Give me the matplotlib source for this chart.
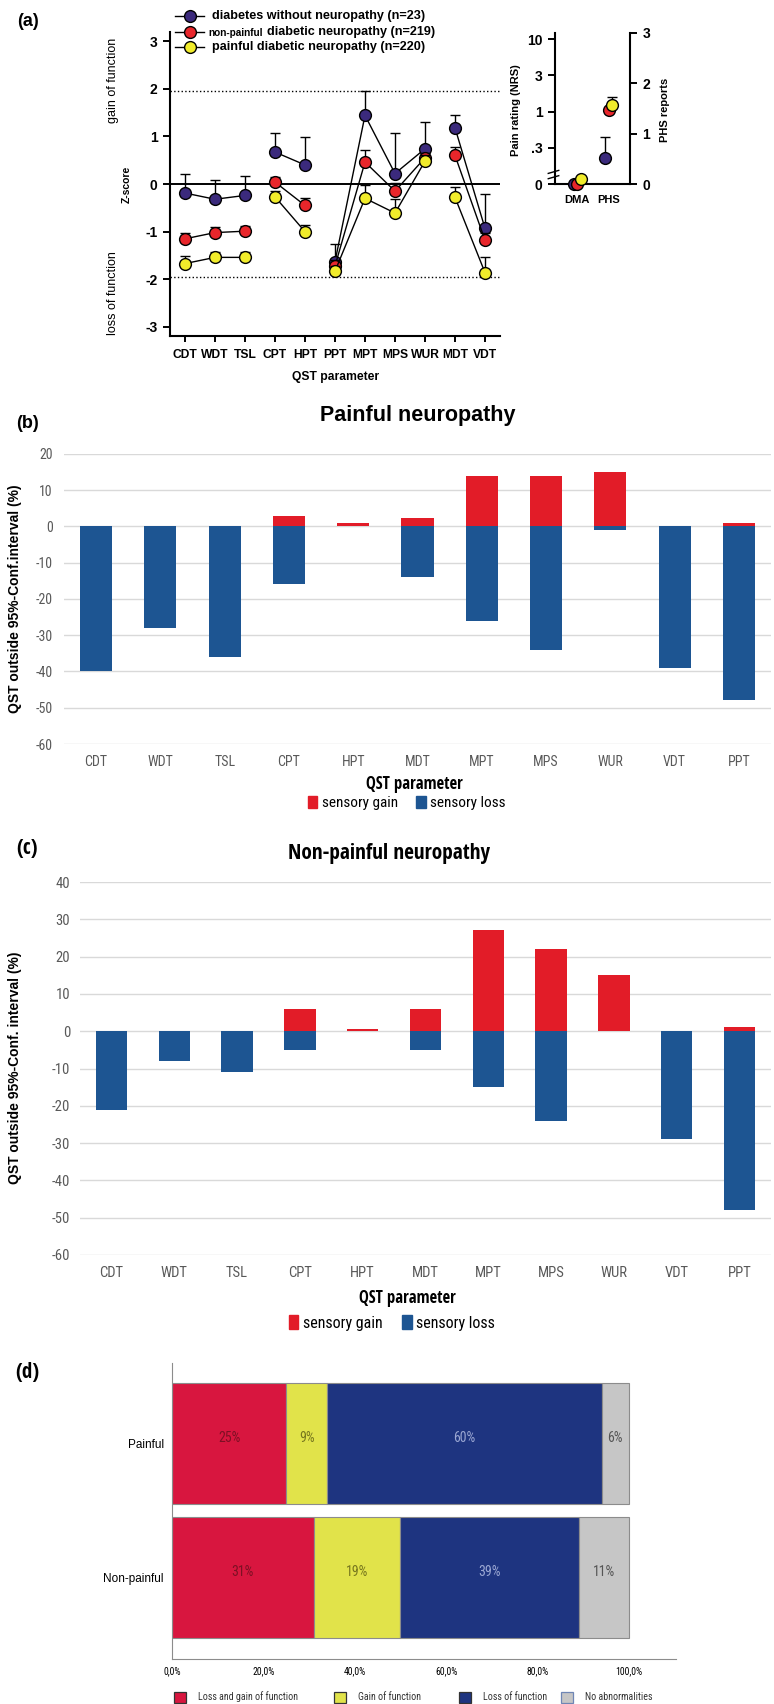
import numpy as np
import matplotlib
matplotlib.use('Agg')
import matplotlib.pyplot as plt
from matplotlib import font_manager
from matplotlib.font_manager import FontProperties
from matplotlib.lines import Line2D
from matplotlib.patches import Patch, Rectangle
from matplotlib.ticker import NullLocator

ARIAL = 'Liberation Sans'
plt.rcParams['font.family'] = [ARIAL, 'DejaVu Sans']
plt.rcParams['axes.unicode_minus'] = False


def narrow_font(bold):
    # look for an installed narrow / condensed sans face, Arial Narrow look-alike
    order = ['Liberation Sans Narrow', 'Noto Sans', 'Open Sans', 'Roboto', 'DejaVu Sans']
    best = None
    for f in font_manager.fontManager.ttflist:
        fn = f.fname.lower()
        narrow = ('narrow' in fn or 'condensed' in fn or 'cond' in fn
                  or str(f.stretch) in ('condensed', 'semi-condensed'))
        if not narrow or 'semi' in fn or 'extra' in fn or 'ultra' in fn:
            continue
        if f.style != 'normal' or 'italic' in fn:
            continue
        w = f.weight if isinstance(f.weight, int) else font_manager.weight_dict.get(f.weight, 400)
        if bold and w != 700:
            continue
        if not bold and w != 400:
            continue
        fam = next((k for k, n in enumerate(order) if f.name.startswith(n)), None)
        if fam is None:
            continue
        if best is None or fam < best[0]:
            best = (fam, f.fname)
    if best is None:
        return None
    return best[1]


NARROW_R = narrow_font(False)
NARROW_B = narrow_font(True)


def nprop(size, bold=False):
    path = NARROW_B if bold else NARROW_R
    if path is None:
        # no narrow face installed: plain Arial metrics, a bit smaller
        return FontProperties(family=ARIAL, weight='bold' if bold else 'normal', size=size * 0.9)
    return FontProperties(fname=path, size=size)


# ---- panel (a) data ----
qst_a = ['CDT', 'WDT', 'TSL', 'CPT', 'HPT', 'PPT', 'MPT', 'MPS', 'WUR', 'MDT', 'VDT']
segments_a = [[0, 1, 2], [3, 4], [5, 6, 7, 8], [9, 10]]
z_nodn = [-0.19, -0.32, -0.24, 0.67, 0.40, -1.63, 1.44, 0.22, 0.74, 1.18, -0.93]
z_nodn_up = [0.20, 0.08, 0.16, 1.06, 0.98, -1.25, 1.95, 1.08, 1.30, 1.45, -0.20]
z_npdn = [-1.15, -1.02, -0.99, 0.04, -0.45, -1.72, 0.46, -0.15, 0.55, 0.60, -1.18]
z_npdn_up = [-1.02, -0.90, -0.88, 0.15, -0.29, -1.60, 0.72, 0.02, 0.65, 0.77, -1.03]
z_pdn = [-1.67, -1.54, -1.54, -0.27, -1.00, -1.83, -0.30, -0.61, 0.48, -0.28, -1.86]
z_pdn_up = [-1.52, -1.42, -1.42, -0.15, -0.85, -1.72, -0.03, -0.32, 0.60, -0.06, -1.53]

pain_items = ['DMA', 'PHS']
dma_vals = [0.0, 0.0, 0.04]          # NRS, per group
phs_vals = [0.51, 1.47, 1.57]        # PHS reports, per group
phs_up = [0.93, 1.47, 1.73]

group_labels = ['diabetes without neuropathy (n=23)', 'non-painful',
                'painful diabetic neuropathy (n=220)']
group_colors = ['#3b2a7c', '#e8262b', '#f1ec2b']

# ---- panels (b), (c) data ----
qst_bc = ['CDT', 'WDT', 'TSL', 'CPT', 'HPT', 'MDT', 'MPT', 'MPS', 'WUR', 'VDT', 'PPT']
gain_painful = [0, 0, 0, 3, 1, 2.3, 14, 14, 15, 0, 1]
loss_painful = [-40, -28, -36, -16, 0, -14, -26, -34, -1, -39, -48]
gain_nonpainful = [0, 0, 0, 6, 0.7, 6, 27, 22, 15, 0, 1]
loss_nonpainful = [-21, -8, -11, -5, 0, -5, -15, -24, 0, -29, -48]

# ---- panel (d) data ----
d_groups = ['Painful', 'Non-painful']
d_cats = ['Loss and gain of function', 'Gain of function', 'Loss of function', 'No abnormalities']
d_painful = [25, 9, 60, 6]
d_nonpainful = [31, 19, 39, 11]
d_colors = ['#d8163f', '#e1e34a', '#1e3480', '#c6c6c6']
d_textcolors = ['#7d1024', '#77771e', '#9aa6d2', '#555555']
d_edge = ['#333333', '#333333', '#333333', '#6f86b5']

RED = '#e21c28'
BLUE = '#1d5592'
W, H = 774, 1704


def fx(px):
    return px / W


def fy(py):
    return 1 - py / H


fig = plt.figure(figsize=(W / 100, H / 100), dpi=100)

# ================= (a) main =================
ax = fig.add_axes([fx(170), fy(336), fx(330), 304 / H])
x = np.arange(len(qst_a))
ax.axhline(0, color='k', lw=1.4, zorder=1)
ax.axhline(1.96, color='k', lw=1, ls=':', zorder=1)
ax.axhline(-1.96, color='k', lw=1, ls=':', zorder=1)
series = [(z_nodn, z_nodn_up), (z_npdn, z_npdn_up), (z_pdn, z_pdn_up)]
for i, (vals, ups) in enumerate(series):
    vals = np.array(vals)
    ups = np.array(ups)
    base = 2 + 3 * i
    ax.errorbar(x, vals, yerr=[np.zeros_like(vals), ups - vals], fmt='none',
                ecolor='k', elinewidth=1, capsize=3.5, capthick=1, zorder=base)
    for seg in segments_a:
        ax.plot(x[seg], vals[seg], '-', color='k', lw=1, zorder=base + 1)
    ax.plot(x, vals, 'o', ms=8.5, mfc=group_colors[i], mec='k', mew=1, zorder=base + 2)
ax.set_xlim(-0.5, 10.5)
ax.set_ylim(-3.19, 3.19)
ax.set_yticks(range(-3, 4))
ax.set_yticklabels([str(v) for v in range(-3, 4)], fontweight='bold', fontsize=10)
ax.set_xticks(x)
ax.set_xticklabels(qst_a, fontweight='bold', fontsize=8.7)
ax.tick_params(axis='y', length=5, width=1.4, pad=4)
ax.tick_params(axis='x', length=4, width=1.4, pad=5)
for s in ['top', 'right']:
    ax.spines[s].set_visible(False)
for s in ['left', 'bottom']:
    ax.spines[s].set_linewidth(1.5)
fig.text(fx(336), fy(377), 'QST parameter', fontweight='bold', fontsize=8.7, ha='center', va='center')
fig.text(fx(127), fy(184), 'Z-score', fontweight='bold', fontsize=7.5, rotation=90, ha='center', va='center')
fig.text(fx(113), fy(80), 'gain of function', fontsize=9, rotation=90, ha='center', va='center')
fig.text(fx(113), fy(293), 'loss of function', fontsize=9, rotation=90, ha='center', va='center')

# legend (a)
for i, yy in enumerate([16, 32, 47]):
    fig.add_artist(Line2D([fx(175), fx(204)], [fy(yy), fy(yy)], color='k', lw=1,
                          transform=fig.transFigure))
    fig.add_artist(Line2D([fx(190)], [fy(yy)], marker='o', ms=8.5, mfc=group_colors[i],
                          mec='k', mew=1, transform=fig.transFigure))
fig.text(fx(212), fy(16), group_labels[0], fontweight='bold', fontsize=9.1, va='center')
fig.text(fx(208), fy(33), group_labels[1], fontweight='bold', fontsize=7.2, va='center')
fig.text(fx(267), fy(32), 'diabetic neuropathy (n=219)', fontweight='bold', fontsize=9.1, va='center')
fig.text(fx(212), fy(47), group_labels[2], fontweight='bold', fontsize=9.1, va='center')

# ================= (a) right: DMA / PHS =================
LO = 10 ** -0.5


def fwd(v):
    v = np.asarray(v, float)
    return np.where(v < LO, -1 + 0.5 * v / LO, np.log10(np.maximum(v, LO)))


def inv(p):
    p = np.asarray(p, float)
    return np.where(p < -0.5, (p + 1) / 0.5 * LO, 10 ** np.minimum(p, 5))


ax2 = fig.add_axes([fx(555), fy(184), fx(75), (184 - 32.7) / H])
ax2.set_yscale('function', functions=(fwd, inv))
ax2.set_ylim(0, 10 ** 1.09)
ax2.set_xlim(-0.69, 1.66)
offs = [-0.11, 0.0, 0.11]
for i in range(3):
    ax2.plot([0 + offs[i]], [dma_vals[i]], 'o', ms=8.5, mfc=group_colors[i], mec='k',
             mew=1, clip_on=False, zorder=3 + i)
ax2.set_yticks([0, LO, 1, 10 ** 0.5, 10])
ax2.set_yticklabels(['0', '.3', '1', '3', '10'], fontweight='bold', fontsize=10)
ax2.yaxis.set_minor_locator(NullLocator())
ax2.set_xticks([0, 1])
ax2.set_xticklabels(pain_items, fontweight='bold', fontsize=8)
ax2.tick_params(axis='x', length=0, pad=8)
ax2.tick_params(axis='y', length=5, width=1.4, pad=4)
for s in ['top', 'right']:
    ax2.spines[s].set_visible(False)
for s in ['left', 'bottom']:
    ax2.spines[s].set_linewidth(1.5)
# axis break marks
for yb in [0.045, 0.08]:
    ax2.plot([-0.09, 0.05], [yb - 0.01, yb + 0.01], color='k', lw=1,
             transform=ax2.transAxes, clip_on=False)

axr = ax2.twinx()
axr.set_ylim(0, 3)
for i in range(3):
    v = phs_vals[i]
    if phs_up[i] > v:
        axr.errorbar([1 + offs[i]], [v], yerr=[[0], [phs_up[i] - v]], fmt='none',
                     ecolor='k', elinewidth=1, capsize=3.5, capthick=1, zorder=2 + 2 * i)
    axr.plot([1 + offs[i]], [v], 'o', ms=8.5, mfc=group_colors[i], mec='k', mew=1,
             zorder=3 + 2 * i)
axr.set_yticks([0, 1, 2, 3])
axr.set_yticklabels(['0', '1', '2', '3'], fontweight='bold', fontsize=10)
axr.tick_params(axis='y', length=5, width=1.4, pad=4)
for s in ['top', 'left', 'bottom']:
    axr.spines[s].set_visible(False)
axr.spines['right'].set_linewidth(1.5)
fig.text(fx(516), fy(110), 'Pain rating (NRS)', fontweight='bold', fontsize=8, rotation=90,
         ha='center', va='center')
fig.text(fx(665), fy(110), 'PHS reports', fontweight='bold', fontsize=8, rotation=90,
         ha='center', va='center')


# ================= (b) and (c) =================
def qst_bars(rect, gain, loss, ylim, step, ypad, title, title_xy, title_narrow,
             ylabel, ylabel_y, xlabel_y, xlabel_x, leg_xy, leg_fs, tick_fs):
    axb = fig.add_axes(rect)
    xb = np.arange(len(qst_bc))
    axb.bar(xb, gain, width=0.5, color=RED, zorder=3)
    axb.bar(xb, loss, width=0.5, color=BLUE, zorder=3)
    axb.set_xlim(-0.5, 10.5)
    axb.set_ylim(*ylim)
    axb.set_yticks(np.arange(ylim[0], ylim[1] + 1, step))
    axb.yaxis.grid(True, color='#d9d9d9', lw=1)
    axb.set_axisbelow(True)
    axb.set_xticks(xb)
    axb.set_xticklabels(qst_bc)
    for s in axb.spines.values():
        s.set_visible(False)
    axb.tick_params(length=0, colors='#595959')
    axb.tick_params(axis='y', pad=ypad)
    axb.tick_params(axis='x', pad=8)
    for lab in axb.get_xticklabels() + axb.get_yticklabels():
        lab.set_fontproperties(nprop(tick_fs))
    if title_narrow:
        fig.text(fx(title_xy[0]), fy(title_xy[1]), title, fontproperties=nprop(15.3, True),
                 ha='center', va='center')
    else:
        fig.text(fx(title_xy[0]), fy(title_xy[1]), title, fontweight='bold', fontsize=15.5,
                 ha='center', va='center')
    fig.text(fx(15), fy(ylabel_y), ylabel, fontweight='bold', fontsize=10, rotation=90,
             ha='center', va='center')
    fig.text(fx(xlabel_x), fy(xlabel_y), 'QST parameter', fontproperties=nprop(12, True),
             ha='center', va='center')
    fig.legend(handles=[Patch(color=RED), Patch(color=BLUE)],
               labels=['sensory gain', 'sensory loss'], loc='center',
               bbox_to_anchor=(fx(leg_xy[0]), fy(leg_xy[1])), ncol=2, frameon=False,
               handlelength=0.6, handleheight=0.9, handletextpad=0.3, columnspacing=1.2,
               prop=nprop(leg_fs))
    return axb


qst_bars([fx(64), fy(744), fx(707), 290 / H], gain_painful, loss_painful, (-60, 20), 10, 8,
         'Painful neuropathy', (418, 415), False,
         'QST outside 95%-Conf.interval (%)', 599, 784, 414, (407, 803), 11, 10)
qst_bars([fx(80), fy(1255), fx(691), 373 / H], gain_nonpainful, loss_nonpainful, (-60, 40), 10, 7,
         'Non-painful neuropathy', (389, 853), True,
         'QST outside 95%-Conf. interval (%)', 1068, 1298, 407, (392, 1323), 11.5, 10.5)

# ================= (d) =================
axd = fig.add_axes([fx(172), fy(1659), fx(504), 296 / H])
yd = [1, 0]
for row, vals in zip(yd, [d_painful, d_nonpainful]):
    left = 0
    for j, v in enumerate(vals):
        axd.barh(row, v, left=left, height=0.9, color=d_colors[j], edgecolor='#8c8c8c', lw=0.8)
        axd.text(left + v / 2, row + 0.04, f'{v}%', ha='center', va='center',
                 color=d_textcolors[j], fontproperties=nprop(10))
        left += v
axd.set_xlim(0, 110.3)
axd.set_ylim(-0.61, 1.60)
axd.set_yticks(yd)
axd.set_yticklabels(d_groups, fontsize=8.5)
axd.set_xticks(np.arange(0, 101, 20))
axd.set_xticklabels([f'{v:.1f}%'.replace('.', ',') for v in np.arange(0, 101, 20)])
for lab in axd.get_xticklabels():
    lab.set_fontproperties(nprop(7))
axd.tick_params(length=0)
axd.tick_params(axis='y', pad=6)
axd.tick_params(axis='x', pad=5)
for s in ['top', 'right']:
    axd.spines[s].set_visible(False)
for s in ['left', 'bottom']:
    axd.spines[s].set_color('#8c8c8c')

# legend (d): one square + label per category, as in the original layout
for j, xs in enumerate([174, 334, 459, 561]):
    fig.add_artist(Rectangle((fx(xs), fy(1703)), fx(12), 11 / H, facecolor=d_colors[j],
                             edgecolor=d_edge[j], lw=0.9, transform=fig.transFigure))
    fig.text(fx(xs + 24), fy(1697), d_cats[j], fontproperties=nprop(7.2),
             color='#333333', va='center')

# panel letters
fig.text(fx(28), fy(21), '(a)', fontweight='bold', fontsize=13, ha='center', va='center')
fig.text(fx(28), fy(423), '(b)', fontweight='bold', fontsize=13, ha='center', va='center')
fig.text(fx(27), fy(848), '(c)', fontproperties=nprop(15, True), ha='center', va='center')
fig.text(fx(27), fy(1373), '(d)', fontproperties=nprop(15, True), ha='center', va='center')

fig.savefig('out.png', dpi=100)
